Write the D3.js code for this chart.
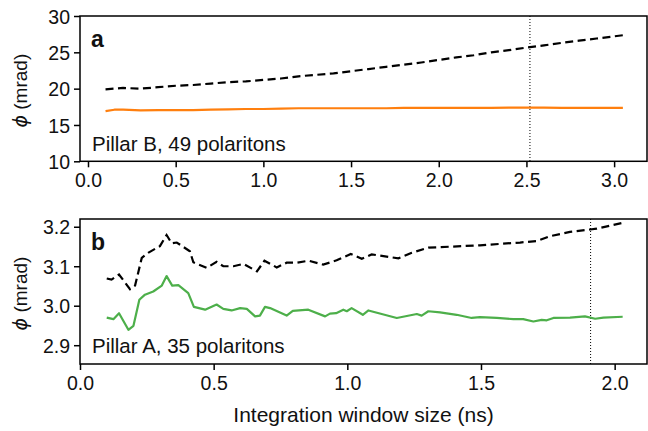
<!DOCTYPE html>
<html>
<head>
<meta charset="utf-8">
<script src="https://cdn.jsdelivr.net/npm/d3@7"></script>
<style>
  body { margin: 0; background: #fff; }
  svg text { font-family: "Liberation Sans", Arial, Helvetica, sans-serif; fill: #111; }
</style>
</head>
<body>
<svg width="648" height="431"></svg>
<script>
// panel a: Pillar B, 49 polaritons
const windowB = [0.1, 0.15, 0.2, 0.3, 0.4, 0.5, 0.6, 0.7, 0.8, 0.9, 1.0, 1.1, 1.2, 1.3, 1.4, 1.5,
  1.6, 1.7, 1.8, 1.9, 2.0, 2.1, 2.2, 2.3, 2.4, 2.5, 2.6, 2.7, 2.8, 2.9, 3.0, 3.05];
const phiB = [19.9, 20.0, 20.1, 20.0, 20.2, 20.4, 20.5, 20.7, 20.9, 21.0, 21.2, 21.4, 21.7, 21.9, 22.1, 22.4,
  22.7, 23.0, 23.3, 23.6, 23.95, 24.3, 24.6, 25.0, 25.3, 25.65, 25.95, 26.3, 26.6, 26.9, 27.2, 27.35];
const thermB = [16.9, 17.1, 17.1, 17.0, 17.05, 17.05, 17.05, 17.1, 17.15, 17.2, 17.2, 17.25, 17.3, 17.3, 17.3, 17.3,
  17.3, 17.3, 17.35, 17.35, 17.35, 17.35, 17.35, 17.35, 17.4, 17.4, 17.4, 17.35, 17.35, 17.35, 17.35, 17.35];
const markB = 2.52;

// panel b: Pillar A, 35 polaritons
const windowA1 = [0.1, 0.118, 0.146, 0.187, 0.206, 0.231, 0.255, 0.299, 0.324, 0.343, 0.362, 0.411, 0.424,
  0.474, 0.511, 0.536, 0.574, 0.611, 0.662, 0.69, 0.736, 0.773, 0.811, 0.855, 0.91, 0.96, 1.013, 1.054,
  1.091, 1.191, 1.241, 1.303, 1.496, 1.646, 1.709, 1.758, 1.833, 1.908, 1.933, 2.03];
const phiA = [3.069, 3.066, 3.079, 3.042, 3.051, 3.121, 3.134, 3.151, 3.179, 3.158, 3.160, 3.138, 3.110,
  3.096, 3.111, 3.100, 3.100, 3.106, 3.087, 3.114, 3.097, 3.109, 3.109, 3.114, 3.104, 3.115, 3.131, 3.119,
  3.130, 3.120, 3.134, 3.147, 3.153, 3.160, 3.164, 3.176, 3.187, 3.193, 3.195, 3.210];
const windowA2 = [0.1, 0.125, 0.146, 0.181, 0.2, 0.222, 0.243, 0.274, 0.306, 0.324, 0.345, 0.368, 0.405,
  0.426, 0.468, 0.511, 0.536, 0.567, 0.599, 0.624, 0.655, 0.673, 0.692, 0.711, 0.773, 0.796, 0.854, 0.917,
  0.935, 0.958, 0.985, 0.998, 1.016, 1.058, 1.079, 1.185, 1.260, 1.278, 1.303, 1.347, 1.409, 1.465, 1.496,
  1.559, 1.621, 1.658, 1.696, 1.727, 1.746, 1.771, 1.833, 1.889, 1.927, 1.958, 2.03];
const thermA = [2.970, 2.966, 2.981, 2.939, 2.949, 3.015, 3.028, 3.036, 3.051, 3.075, 3.051, 3.052, 3.032,
  2.997, 2.990, 3.003, 2.992, 2.988, 2.994, 2.992, 2.973, 2.975, 2.997, 2.994, 2.975, 2.987, 2.990, 2.973,
  2.980, 2.981, 2.990, 2.986, 2.994, 2.977, 2.988, 2.969, 2.979, 2.975, 2.986, 2.983, 2.977, 2.969, 2.971,
  2.969, 2.966, 2.966, 2.960, 2.964, 2.963, 2.969, 2.970, 2.973, 2.967, 2.970, 2.972];
const markA = 1.91;

const ticksXB = [0, 0.5, 1, 1.5, 2, 2.5, 3];
const ticksYB = [10, 15, 20, 25, 30];
const ticksXA = [0, 0.5, 1, 1.5, 2];
const ticksYA = [2.9, 3.0, 3.1, 3.2];

const svg = d3.select("svg");
const left = 80, right = 647;

function panel(cfg) {
  const g = svg.append("g");
  const x = d3.scaleLinear().domain(cfg.xDomain).range([left, right]);
  const y = d3.scaleLinear().domain(cfg.yDomain).range([cfg.bottom, cfg.top]);

  const line = (xs, ys) => d3.line().x((d, i) => x(xs[i])).y(d => y(d))(ys);

  g.append("line")
    .attr("x1", x(cfg.mark)).attr("x2", x(cfg.mark))
    .attr("y1", cfg.top).attr("y2", cfg.bottom)
    .attr("stroke", "#000").attr("stroke-width", 1).attr("stroke-dasharray", "1,2");

  g.append("path")
    .attr("d", line(cfg.xs2, cfg.ys2))
    .attr("fill", "none").attr("stroke", cfg.color).attr("stroke-width", 2.2)
    .attr("stroke-linejoin", "round");

  g.append("path")
    .attr("d", line(cfg.xs1, cfg.ys1))
    .attr("fill", "none").attr("stroke", "#000").attr("stroke-width", 2.2)
    .attr("stroke-dasharray", "8,4.5");

  g.append("rect")
    .attr("x", left).attr("y", cfg.top)
    .attr("width", right - left).attr("height", cfg.bottom - cfg.top)
    .attr("fill", "none").attr("stroke", "#000").attr("stroke-width", 1.5);

  const ax = g.append("g")
    .attr("transform", `translate(0,${cfg.bottom})`)
    .call(d3.axisBottom(x).tickValues(cfg.xt).tickFormat(d3.format(".1f")).tickSize(6).tickPadding(6));
  const ay = g.append("g")
    .attr("transform", `translate(${left},0)`)
    .call(d3.axisLeft(y).tickValues(cfg.yt).tickFormat(cfg.yFmt).tickSize(6).tickPadding(4));
  [ax, ay].forEach(a => {
    a.attr("font-size", null).attr("font-family", null);
    a.select(".domain").remove();
    a.selectAll(".tick line").attr("stroke", "#000").attr("stroke-width", 1.5);
    a.selectAll(".tick text").attr("fill", "#111").style("font-size", "19.5px");
  });
  ay.selectAll(".tick text").attr("dy", "0.36em");
  ax.selectAll(".tick text").attr("dy", "0.72em");

  g.append("text")
    .attr("x", 91).attr("y", cfg.top + 30.5)
    .style("font-size", "23px").style("font-weight", "bold")
    .text(cfg.letter);

  g.append("text")
    .attr("x", 92).attr("y", cfg.bottom - 10.6)
    .style("font-size", "20.5px")
    .text(cfg.label);

  const yl = g.append("text")
    .attr("transform", `translate(27,${(cfg.top + cfg.bottom) / 2 + 2}) rotate(-90)`)
    .attr("text-anchor", "middle")
    .style("font-size", "19px");
  yl.append("tspan").style("font-style", "italic").style("font-family", "DejaVu Sans").text("ϕ");
  yl.append("tspan").text(" (mrad)");
}

panel({
  xDomain: [-0.0456, 3.1875], yDomain: [10, 30], top: 16, bottom: 161.3,
  xs1: windowB, ys1: phiB, xs2: windowB, ys2: thermB, color: "#ff7f0e",
  mark: markB, xt: ticksXB, yt: ticksYB, yFmt: d3.format("d"),
  letter: "a", label: "Pillar B, 49 polaritons"
});

panel({
  xDomain: [0, 2.121], yDomain: [2.8524, 3.2196], top: 219, bottom: 364,
  xs1: windowA1, ys1: phiA, xs2: windowA2, ys2: thermA, color: "#4daf4a",
  mark: markA, xt: ticksXA, yt: ticksYA, yFmt: d3.format(".1f"),
  letter: "b", label: "Pillar A, 35 polaritons"
});

svg.append("text")
  .attr("x", (left + right) / 2).attr("y", 422)
  .attr("text-anchor", "middle")
  .style("font-size", "21px")
  .text("Integration window size (ns)");
</script>
</body>
</html>
